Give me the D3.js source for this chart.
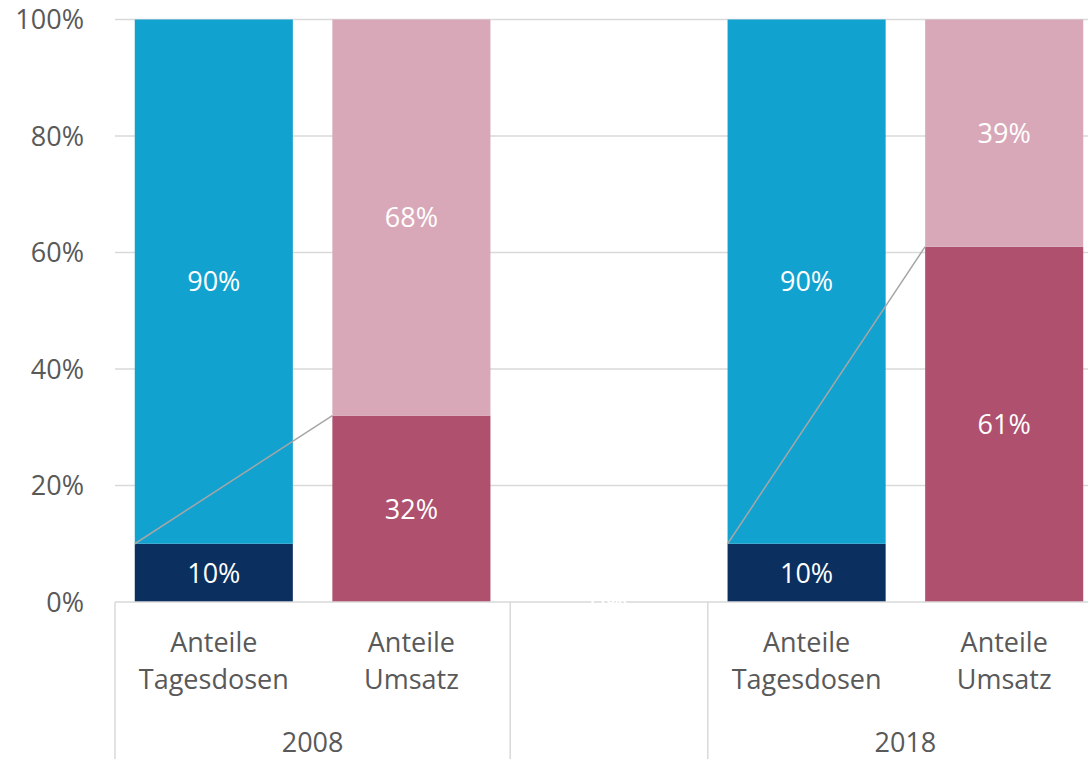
<!DOCTYPE html>
<html>
<head>
<meta charset="utf-8">
<script src="https://cdn.jsdelivr.net/npm/d3@7"></script>
<style>
  body { margin: 0; background: #fff; }
  text { font-family: "Open Sans", Lato, sans-serif; }
</style>
</head>
<body>
<div id="the_chart"></div>
<script>
// values
var categories = ["Anteile\nTagesdosen", "Anteile\nUmsatz", "", "Anteile\nTagesdosen", "Anteile\nUmsatz"];
var kinds = ["dosen", "umsatz", "none", "dosen", "umsatz"];
var lowerShare = [10, 32, 0, 10, 61];
var upperShare = [90, 68, 0, 90, 39];
var groupLabels = ["2008", "", "2018"];
var groupSpans = [[0, 2], [2, 3], [3, 5]];
var yTicks = [0, 20, 40, 60, 80, 100];

var lowerColor = { dosen: "#0b2f5e", umsatz: "#ae506e", none: "#fff" };
var upperColor = { dosen: "#12a2cf", umsatz: "#d8a8b8", none: "#fff" };

function gen_vis() {
    var w = 1088, h = 759;
    var left = 115, right = 1103, top = 19.5, bottom = 602;
    var fs = 27;

    var svg = d3.select("#the_chart").append("svg")
        .attr("width", w)
        .attr("height", h);

    var x = d3.scaleBand()
        .domain(d3.range(categories.length))
        .range([left, right])
        .paddingInner(0.2)
        .paddingOuter(0.1);

    var y = d3.scaleLinear()
        .domain([0, 100])
        .range([bottom, top]);

    var step = x.step();
    var slotLeft = function (i) { return left + i * step; };

    // gridlines
    svg.selectAll("line.grid")
        .data(yTicks.slice(1))
        .enter().append("line")
        .attr("x1", left).attr("x2", w)
        .attr("y1", function (d) { return y(d); })
        .attr("y2", function (d) { return y(d); })
        .attr("stroke", "#d9d9d9")
        .attr("stroke-width", 1.3);

    // y tick labels
    svg.selectAll("text.ytick")
        .data(yTicks)
        .enter().append("text")
        .attr("x", 84)
        .attr("y", function (d) { return y(d); })
        .attr("dy", "0.36em")
        .attr("text-anchor", "end")
        .attr("font-size", fs)
        .attr("fill", "#595959")
        .text(function (d) { return d + "%"; });

    var idx = d3.range(categories.length);

    // lower segments
    svg.selectAll("rect.lower")
        .data(idx)
        .enter().append("rect")
        .attr("x", function (i) { return x(i); })
        .attr("width", x.bandwidth())
        .attr("y", function (i) { return y(lowerShare[i]); })
        .attr("height", function (i) { return y(0) - y(lowerShare[i]); })
        .attr("fill", function (i) { return lowerColor[kinds[i]]; });

    // upper segments
    svg.selectAll("rect.upper")
        .data(idx)
        .enter().append("rect")
        .attr("x", function (i) { return x(i); })
        .attr("width", x.bandwidth())
        .attr("y", function (i) { return y(lowerShare[i] + upperShare[i]); })
        .attr("height", function (i) { return y(lowerShare[i]) - y(lowerShare[i] + upperShare[i]); })
        .attr("fill", function (i) { return upperColor[kinds[i]]; });

    // connector lines between Tagesdosen and Umsatz
    [[0, 1], [3, 4]].forEach(function (p) {
        svg.append("line")
            .attr("x1", x(p[0])).attr("y1", y(lowerShare[p[0]]))
            .attr("x2", x(p[1])).attr("y2", y(lowerShare[p[1]]))
            .attr("stroke", "#a6a6a6")
            .attr("stroke-width", 1.5);
    });

    // axis line and separators
    svg.append("line")
        .attr("x1", left).attr("x2", w)
        .attr("y1", bottom).attr("y2", bottom)
        .attr("stroke", "#d9d9d9")
        .attr("stroke-width", 1.5);

    var seps = [0, 2, 3, 5];
    svg.selectAll("line.sep")
        .data(seps)
        .enter().append("line")
        .attr("x1", function (i) { return slotLeft(i); })
        .attr("x2", function (i) { return slotLeft(i); })
        .attr("y1", bottom).attr("y2", h)
        .attr("stroke", "#d9d9d9")
        .attr("stroke-width", 1.5);

    // data labels
    var labels = [];
    idx.forEach(function (i) {
        labels.push({ i: i, v: lowerShare[i], mid: lowerShare[i] / 2 });
        if (kinds[i] != "none")
            labels.push({ i: i, v: upperShare[i], mid: lowerShare[i] + upperShare[i] / 2 });
    });
    svg.selectAll("text.val")
        .data(labels)
        .enter().append("text")
        .attr("x", function (d) { return x(d.i) + x.bandwidth() / 2; })
        .attr("y", function (d) { return y(d.mid); })
        .attr("dy", "0.36em")
        .attr("text-anchor", "middle")
        .attr("font-size", fs)
        .attr("fill", "#fff")
        .text(function (d) { return d.v + "%"; });

    // category labels
    idx.forEach(function (i) {
        var lines = categories[i].split("\n");
        var t = svg.append("text")
            .attr("text-anchor", "middle")
            .attr("font-size", fs)
            .attr("fill", "#595959");
        lines.forEach(function (l, k) {
            if (l == "") return;
            t.append("tspan")
                .attr("x", x(i) + x.bandwidth() / 2)
                .attr("y", 652 + k * 37)
                .text(l);
        });
    });

    // group labels
    svg.selectAll("text.group")
        .data(groupSpans)
        .enter().append("text")
        .attr("x", function (s) { return (slotLeft(s[0]) + slotLeft(s[1])) / 2; })
        .attr("y", 752)
        .attr("text-anchor", "middle")
        .attr("font-size", fs)
        .attr("fill", "#595959")
        .text(function (s, k) { return groupLabels[k]; });
}

gen_vis();
</script>
</body>
</html>
